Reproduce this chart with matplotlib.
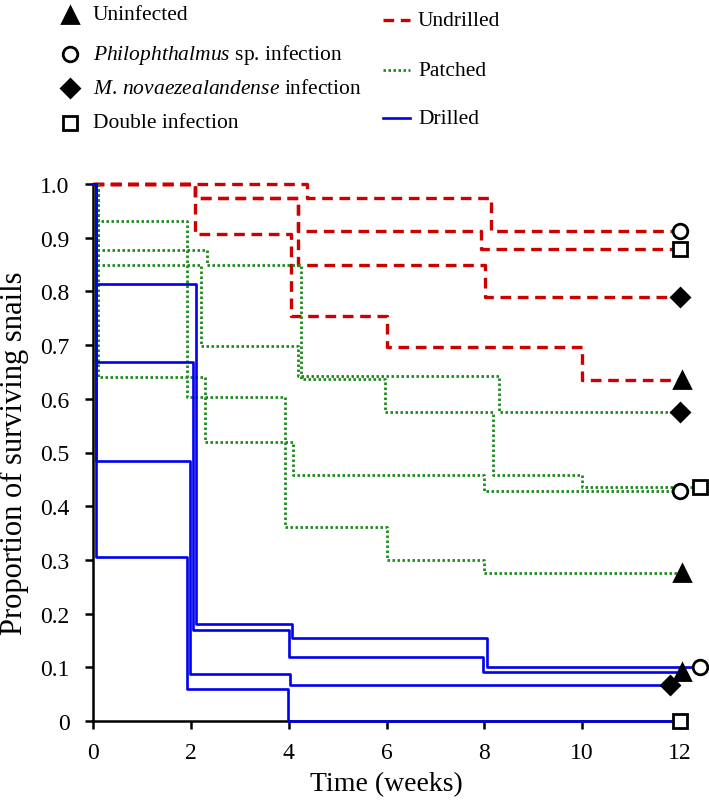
import numpy as np
import matplotlib
matplotlib.use("Agg")
from matplotlib import pyplot as plt
from matplotlib.lines import Line2D

plt.rcParams['font.family'] = ['Liberation Serif', 'DejaVu Serif']
plt.rcParams['mathtext.fontset'] = 'custom'
plt.rcParams['mathtext.rm'] = 'Liberation Serif'
plt.rcParams['mathtext.it'] = 'Liberation Serif:italic'

# Kaplan-Meier style step data (time in weeks, proportion surviving)
groups = ["Undrilled", "Patched", "Drilled"]
infections = ["Uninfected", "Philophthalmus", "Microphallus", "Double"]

undrilled_t = [
    [0, 2.08, 4.04, 6.0, 10.0, 12.05],
    [0, 4.37, 8.14, 12.0],
    [0, 2.08, 4.2, 8.02, 12.0],
    [0, 2.08, 4.2, 7.94, 12.0],
]
undrilled_s = [
    [1.0, 0.907, 0.754, 0.697, 0.635, 0.635],
    [1.0, 0.974, 0.912, 0.912],
    [1.0, 0.974, 0.849, 0.790, 0.790],
    [1.0, 0.974, 0.912, 0.879, 0.879],
]

patched_t = [
    [0, 0.1, 1.92, 3.93, 6.0, 8.0, 12.05],
    [0, 0.1, 2.29, 4.09, 8.0, 12.0],
    [0, 0.1, 2.2, 4.19, 8.3, 12.0],
    [0, 0.1, 2.33, 4.25, 5.97, 8.18, 10.0, 12.4],
]
patched_s = [
    [1.0, 0.932, 0.603, 0.361, 0.300, 0.275, 0.275],
    [1.0, 0.641, 0.519, 0.458, 0.428, 0.428],
    [1.0, 0.850, 0.699, 0.643, 0.575, 0.575],
    [1.0, 0.878, 0.850, 0.637, 0.575, 0.458, 0.436, 0.436],
]

drilled_t = [
    [0, 0.06, 2.05, 4.01, 7.98, 12.05],
    [0, 0.06, 2.1, 4.06, 8.05, 12.4],
    [0, 0.06, 1.98, 4.03, 11.8],
    [0, 0.06, 1.92, 3.99, 12.0],
]
drilled_s = [
    [1.0, 0.668, 0.170, 0.120, 0.092, 0.092],
    [1.0, 0.813, 0.181, 0.154, 0.100, 0.100],
    [1.0, 0.485, 0.088, 0.067, 0.067],
    [1.0, 0.305, 0.060, 0.0, 0.0],
]

xticks = [0, 2, 4, 6, 8, 10, 12]
yticks = [0, 0.1, 0.2, 0.3, 0.4, 0.5, 0.6, 0.7, 0.8, 0.9, 1.0]
ytick_labels = ["0", "0.1", "0.2", "0.3", "0.4", "0.5", "0.6", "0.7", "0.8", "0.9", "1.0"]

legend_inf = [r"Uninfected", r"$\mathit{Philophthalmus}$ sp. infection",
              r"$\mathit{M.\,novaezealandense}$ infection", r"Double infection"]

RED = '#cc0000'
GREEN = '#1e8c1e'
BLUE = '#0000ee'
markers = ['^', 'o', 'D', 's']
msizes = [12, 10.5, 9.5, 10.5]
mfill = ['k', 'white', 'k', 'white']

W, H = 709, 804
fig = plt.figure(figsize=(W / 100, H / 100), dpi=100)
ax = fig.add_axes([93 / W, 1 - 722 / H, (680 - 93) / W, (722 - 185) / H])

styles = {
    "Undrilled": dict(color=RED, lw=2.4, dashes=(3.2, 2.0)),
    "Patched": dict(color=GREEN, lw=2.0, dashes=(0.9, 0.9), dash_capstyle='butt'),
    "Drilled": dict(color=BLUE, lw=1.9),
}
data = {"Undrilled": (undrilled_t, undrilled_s),
        "Patched": (patched_t, patched_s),
        "Drilled": (drilled_t, drilled_s)}

for g in groups:
    ts, ss = data[g]
    for i in range(4):
        ax.step(ts[i], ss[i], where='post', clip_on=False, zorder=4, **styles[g])
        ax.plot(ts[i][-1], ss[i][-1], marker=markers[i], ms=msizes[i],
                mfc=mfill[i], mec='k', mew=2, ls='none', clip_on=False, zorder=6)

ax.set_xlim(0, 12)
ax.set_ylim(0, 1.0)
for s in ['top', 'right']:
    ax.spines[s].set_visible(False)
for s in ['left', 'bottom']:
    ax.spines[s].set_linewidth(1.8)
    ax.spines[s].set_zorder(3)
ax.set_xticks(xticks)
ax.set_yticks(yticks)
ax.set_yticklabels(ytick_labels)
ax.tick_params(direction='out', length=6, width=1.8, labelsize=17)
ax.tick_params(axis='y', pad=11)
ax.tick_params(axis='x', pad=9)
ax.set_xlabel("Time (weeks)", fontsize=20, labelpad=6)
ax.set_ylabel("Proportion of surviving snails", fontsize=22, labelpad=8)


def fx(px):
    return px / W


def fy(py):
    return 1 - py / H


# left legend: infection status markers
rows_left = [16, 55, 89, 124]
for i in range(4):
    fig.add_artist(Line2D([fx(70)], [fy(rows_left[i])], marker=markers[i], ms=msizes[i],
                          mfc=mfill[i], mec='k', mew=2, ls='none', transform=fig.transFigure))
    fig.text(fx(93), fy(rows_left[i]), legend_inf[i], fontsize=15.5, va='center', ha='left')

# right legend: treatment line styles
rows_right = [21, 71, 119]
for g, r in zip(groups, rows_right):
    fig.add_artist(Line2D([fx(383), fx(410)], [fy(r), fy(r)], transform=fig.transFigure,
                          **styles[g]))
    fig.text(fx(418), fy(r), g, fontsize=15.5, va='center', ha='left')

fig.savefig("out.png", dpi=100)
